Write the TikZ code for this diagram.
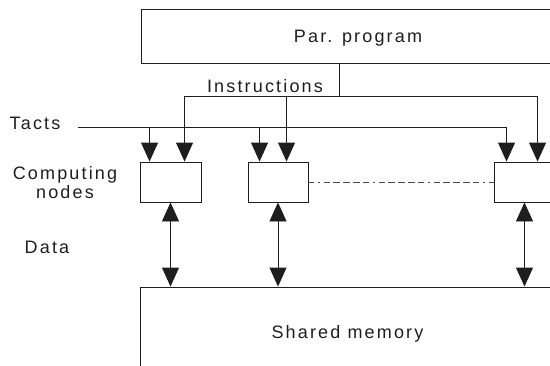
\documentclass[tikz,border=0pt]{standalone}
\usepackage{fontspec}
\newfontfamily\lblfont{Liberation Sans}[LetterSpace=12]
\usetikzlibrary{arrows.meta,calc}
\definecolor{ink}{HTML}{1E1E1E}
\tikzset{
  lbl/.style={font=\lblfont\fontsize{18}{19}\selectfont, text=ink, inner sep=0pt},
  box/.style={draw=ink, line width=0.9pt, rectangle, inner sep=0pt, text depth=0pt,
              font=\lblfont\fontsize{18}{19}\selectfont, text=ink},
  wire/.style={draw=ink, line width=0.9pt},
  arr/.style={wire, -{Triangle[length=19pt,width=17pt]}},
  darr/.style={wire, {Triangle[length=19pt,width=17pt]}-{Triangle[length=19pt,width=17pt]}},
  dashpat/.style={draw=ink!80, line width=1pt,
     dash pattern=on 6pt off 4pt on 2pt off 4pt on 6pt off 3pt on 7pt off 3pt on 7pt off 3pt on 7pt off 3pt}
}
\begin{document}
\begin{tikzpicture}[x=1pt,y=-1pt]
\useasboundingbox (0,0) rectangle (550,365);
\clip (0,0) rectangle (550,365);
% boxes
\node[box, minimum width=434pt, minimum height=54pt] (prog) at (358,36) {Par. program};
\node[box, minimum width=61pt, minimum height=40pt] (n1) at (170.5,182) {};
\node[box, minimum width=60pt, minimum height=40pt] (n2) at (278,182) {};
\node[box, minimum width=61pt, minimum height=40pt] (n3) at (524.5,182) {};
\node[box, minimum width=415pt, minimum height=89pt] (mem) at (347.5,331.5) {Shared memory};
% labels
\node[lbl, anchor=base] (linstr) at (265,92) {Instructions};
\node[lbl, anchor=base] (ltacts) at (35,129) {Tacts};
\node[lbl, align=center] (lnodes) at (65,183) {Computing\\nodes};
\node[lbl, anchor=base] (ldata) at (47,253) {Data};
% coordinates
\coordinate (tstart) at (78,127);
\coordinate (ibus) at (339,96);
\coordinate (t1) at ($(n1.north west)+(10,0)$);
\coordinate (i1) at ($(n1.north west)+(45,0)$);
\coordinate (t2) at ($(n2.north west)+(12,0)$);
\coordinate (i2) at ($(n2.north west)+(39,0)$);
\coordinate (t3) at ($(n3.north west)+(13,0)$);
\coordinate (i3) at ($(n3.north west)+(44,0)$);
% instructions bus
\draw[wire] (prog.south -| ibus) -- (ibus);
\draw[arr] (ibus) -| (i1);
\draw[arr] (ibus -| i2) -- (i2);
\draw[arr] (ibus) -| (i3);
% tacts
\draw[arr] (tstart) -| (t3);
\draw[arr] (tstart -| t1) -- (t1);
\draw[arr] (tstart -| t2) -- (t2);
% dashed link
\draw[dashpat] (n2.east) -- (n3.west);
% data
\draw[darr] (n1.south) -- (n1.south |- mem.north);
\draw[darr] (n2.south) -- (n2.south |- mem.north);
\draw[darr] (n3.south) -- (n3.south |- mem.north);
\end{tikzpicture}
\end{document}
